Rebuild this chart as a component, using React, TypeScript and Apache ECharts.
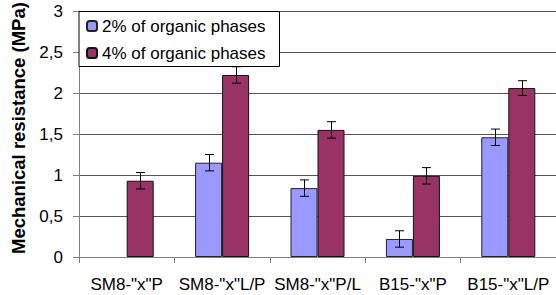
import React, { useEffect, useRef } from "react";
import * as echarts from "echarts";

const categories = ['SM8-"x"P', 'SM8-"x"L/P', 'SM8-"x"P/L', 'B15-"x"P', 'B15-"x"L/P'];
const seriesNames = ["2% of organic phases", "4% of organic phases"];
const values2 = [null, 1.15, 0.84, 0.22, 1.46];
const values4 = [0.93, 2.22, 1.55, 0.99, 2.06];
const errors2 = [null, 0.1, 0.1, 0.1, 0.1];
const errors4 = [0.1, 0.1, 0.1, 0.1, 0.09];
const yTitle = "Mechanical resistance (MPa)";

const FONT = "'Liberation Sans', Arial, sans-serif";
const BAR_W = 27;

function errorSeries(values: (number | null)[], errors: (number | null)[], offset: number) {
  const data = values.map((v, i) =>
    v == null || errors[i] == null ? [i, null, null] : [i, v - (errors[i] as number), v + (errors[i] as number)]
  );
  return {
    type: "custom",
    silent: true,
    z: 10,
    data,
    encode: { x: 0, y: [1, 2] },
    renderItem: (params: any, api: any) => {
      const lo = api.value(1);
      const hi = api.value(2);
      if (lo == null || isNaN(lo)) return null;
      const pLo = api.coord([api.value(0), lo]);
      const pHi = api.coord([api.value(0), hi]);
      const x = Math.round(pLo[0] + offset) + 0.5;
      const cap = 4.5;
      const style = { stroke: "#000", lineWidth: 1 };
      return {
        type: "group",
        children: [
          { type: "line", shape: { x1: x, y1: pLo[1], x2: x, y2: pHi[1] }, style },
          { type: "line", shape: { x1: x - cap, y1: pLo[1], x2: x + cap, y2: pLo[1] }, style },
          { type: "line", shape: { x1: x - cap, y1: pHi[1], x2: x + cap, y2: pHi[1] }, style },
        ],
      };
    },
  };
}

export default function App() {
  const ref = useRef<HTMLDivElement>(null);
  useEffect(() => {
    if (!ref.current) return;
    const chart = echarts.init(ref.current, undefined, { renderer: "svg" });
    chart.setOption({
      animation: false,
      backgroundColor: "#fff",
      textStyle: { fontFamily: FONT },
      grid: { left: 79, top: 11, width: 487, height: 246 },
      legend: {
        orient: "vertical",
        left: 79,
        top: 11.5,
        backgroundColor: "#fff",
        borderColor: "#000",
        borderWidth: 1,
        padding: [6, 14, 5, 7],
        itemGap: 10,
        itemWidth: 10,
        itemHeight: 10,
        data: seriesNames,
        textStyle: { fontSize: 17, color: "#000", fontFamily: FONT },
      },
      xAxis: {
        type: "category",
        data: categories,
        axisLine: { lineStyle: { color: "#808080", width: 1 } },
        axisTick: { show: true, length: 6, lineStyle: { color: "#808080" } },
        axisLabel: { fontSize: 17, color: "#000", margin: 19, fontFamily: FONT, interval: 0 },
      },
      yAxis: {
        type: "value",
        min: 0,
        max: 3,
        interval: 0.5,
        axisLine: { show: true, lineStyle: { color: "#808080", width: 1 } },
        axisTick: { show: true, length: 6, lineStyle: { color: "#808080" } },
        axisLabel: {
          fontSize: 17,
          color: "#000",
          margin: 16,
          fontFamily: FONT,
          formatter: (v: number) => String(v).replace(".", ","),
        },
        splitLine: { lineStyle: { color: "#555", width: 1 } },
      },
      graphic: [
        {
          type: "text",
          x: 28,
          y: 254,
          rotation: Math.PI / 2,
          style: {
            text: yTitle,
            font: `bold 18.5px ${FONT}`,
            fill: "#000",
            textAlign: "left",
            textVerticalAlign: "bottom",
          },
        },
      ],
      series: [
        {
          name: seriesNames[0],
          type: "bar",
          data: values2,
          barWidth: BAR_W,
          barGap: "0%",
          itemStyle: { color: "#9999FF", borderColor: "#222", borderWidth: 1 },
        },
        {
          name: seriesNames[1],
          type: "bar",
          data: values4,
          barWidth: BAR_W,
          barGap: "0%",
          itemStyle: { color: "#993366", borderColor: "#111", borderWidth: 1 },
        },
        errorSeries(values2, errors2, -BAR_W / 2),
        errorSeries(values4, errors4, BAR_W / 2),
      ],
    });
    return () => chart.dispose();
  }, []);
  return <div ref={ref} style={{ width: 556, height: 295, position: "absolute", left: 0, top: 0 }} />;
}
